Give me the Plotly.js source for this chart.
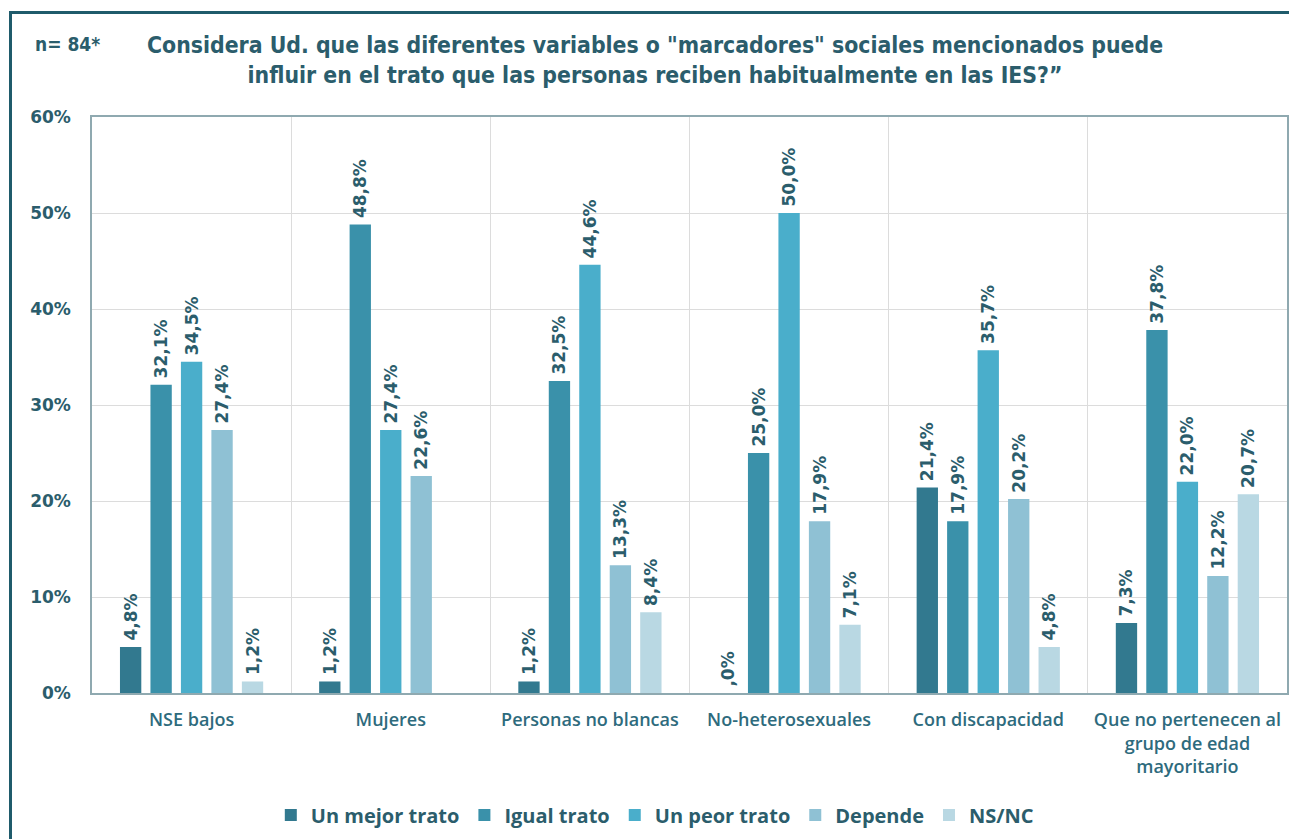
<!DOCTYPE html>
<html>
<head>
<meta charset="utf-8">
<script src="https://cdn.plot.ly/plotly-3.0.1.min.js"></script>
<style>
  html, body { margin: 0; padding: 0; background: #ffffff; }
  #wrap { position: relative; width: 1289px; height: 839px; }
  #chart { width: 1289px; height: 839px; }
  #frame { position: absolute; left: 9px; top: 11px; width: 1280px; height: 828px;
           border-top: 3px solid #1f5b6b; border-left: 3px solid #1f5b6b;
           box-sizing: border-box; pointer-events: none; }
</style>
</head>
<body>
<div id="wrap">
  <div id="chart"></div>
  <div id="frame"></div>
</div>
<script>
// ---- data ----
const categories = [
  "NSE bajos",
  "Mujeres",
  "Personas no blancas",
  "No-heterosexuales",
  "Con discapacidad",
  "Que no pertenecen al<br>grupo de edad<br>mayoritario"
];
const seriesNames = ["Un mejor trato", "Igual trato", "Un peor trato", "Depende", "NS/NC"];
const mejorTrato = [4.8, 1.2, 1.2, 0.0, 21.4, 7.3];
const igualTrato = [32.1, 48.8, 32.5, 25.0, 17.9, 37.8];
const peorTrato  = [34.5, 27.4, 44.6, 50.0, 35.7, 22.0];
const depende    = [27.4, 22.6, 13.3, 17.9, 20.2, 12.2];
const nsnc       = [1.2, null, 8.4, 7.1, 4.8, 20.7];
const yTickVals  = [0, 10, 20, 30, 40, 50, 60];
const yTickText  = yTickVals.map(v => v + "%");

const colors = ["#32798f", "#3a91aa", "#4aaecb", "#8fc1d4", "#b9d8e3"];
const labelColor = "#2b5d6c";

function fmt(v) {
  if (v === null || v === undefined) return "";
  if (v === 0) return "\u2009,0%";
  return "\u2009" + v.toFixed(1).replace(".", ",") + "%";
}

const allSeries = [mejorTrato, igualTrato, peorTrato, depende, nsnc];
const traces = allSeries.map((vals, i) => ({
  type: "bar",
  name: seriesNames[i],
  x: categories,
  y: vals,
  marker: { color: colors[i] },
  text: vals.map(fmt),
  textposition: "outside",
  textangle: -90,
  constraintext: "none",
  cliponaxis: false,
  textfont: { family: "DejaVu Sans, sans-serif", size: 17, color: labelColor, weight: "bold" },
  hoverinfo: "x+y+name"
}));

// plot area: x 92..1287, y 117..693
const layout = {
  width: 1289,
  height: 839,
  margin: { l: 92, r: 2, t: 117, b: 146 },
  paper_bgcolor: "#ffffff",
  plot_bgcolor: "#ffffff",
  barmode: "group",
  bargap: 0.235,
  bargroupgap: 0.3,
  showlegend: true,
  legend: {
    orientation: "h",
    xref: "container",
    yref: "container",
    x: 0.508,
    xanchor: "center",
    y: 1 - 815 / 839,
    yanchor: "middle",
    font: { family: "Open Sans, sans-serif", size: 20, color: labelColor, weight: "bold" },
    traceorder: "normal"
  },
  xaxis: {
    type: "category",
    tickson: "boundaries",
    showgrid: true,
    gridcolor: "#dcdcdc",
    gridwidth: 1,
    showline: true,
    linecolor: "#8fa9b0",
    linewidth: 1.5,
    mirror: true,
    ticks: "",
    tickangle: 0,
    tickfont: { family: "Open Sans, sans-serif", size: 18, color: "#2e6b7d", weight: 600 },
    ticklabelstandoff: 10,
    automargin: false
  },
  yaxis: {
    range: [0, 60],
    tickmode: "array",
    tickvals: yTickVals,
    ticktext: yTickText,
    showgrid: true,
    gridcolor: "#dcdcdc",
    gridwidth: 1,
    zeroline: false,
    showline: true,
    linecolor: "#8fa9b0",
    linewidth: 1.5,
    mirror: true,
    ticks: "",
    ticklabelstandoff: 16,
    tickfont: { family: "DejaVu Sans, sans-serif", size: 17, color: labelColor, weight: "bold" },
    automargin: false
  },
  annotations: [
    {
      xref: "paper", yref: "paper",
      x: (33 - 92) / 1195, y: (693 - 44) / 576,
      xanchor: "left", yanchor: "middle",
      showarrow: false,
      text: "n= 84*",
      font: { family: "DejaVu Sans Condensed, sans-serif", size: 19, color: labelColor, weight: "bold" }
    },
    {
      xref: "paper", yref: "paper",
      x: (655 - 92) / 1195, y: (693 - 60) / 576,
      xanchor: "center", yanchor: "middle",
      showarrow: false,
      align: "center",
      text: "Considera Ud. que las diferentes variables o \"marcadores\" sociales mencionados puede<br>influir en el trato que las personas reciben habitualmente en las IES?”",
      font: { family: "DejaVu Sans Condensed, sans-serif", size: 22.8, color: labelColor, weight: "bold" }
    }
  ]
};

Plotly.newPlot("chart", traces, layout, { displayModeBar: false, responsive: false });
</script>
</body>
</html>
